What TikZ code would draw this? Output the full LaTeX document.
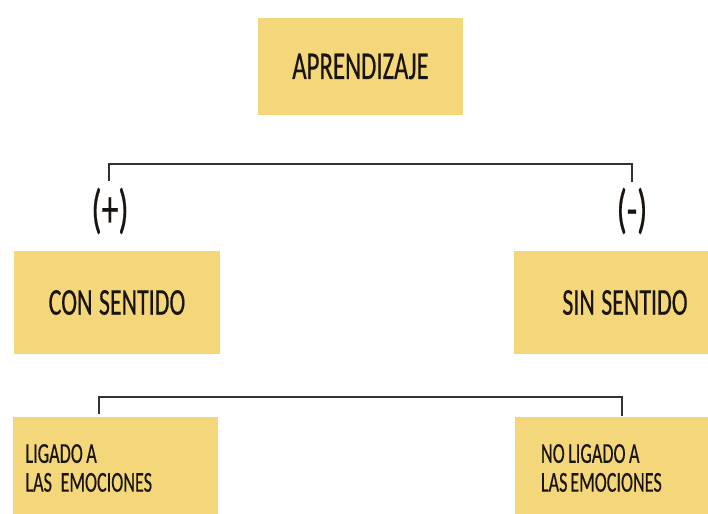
\documentclass[tikz,border=0pt]{standalone}
\usepackage{fontspec}
\setmainfont[FakeStretch=0.63, FakeBold=0.4]{Carlito}
\newcommand{\wgap}[1][0.2em]{\hspace{#1}}
\definecolor{boxyellow}{RGB}{243,215,122}
\definecolor{linegray}{RGB}{50,50,50}
\definecolor{inkblack}{RGB}{25,20,15}
\tikzset{
  box/.style={fill=boxyellow, draw=none, minimum height=2.55cm, inner sep=0pt, text=inkblack},
  sign/.style={text=inkblack, font=\fontsize{38}{38}\selectfont},
  bracket/.style={draw=linegray, line width=1.3pt}
}
\begin{document}
\begin{tikzpicture}[x=0.025cm, y=-0.025cm]
    \useasboundingbox (0,0) rectangle (708,513);
    \clip (0,0) rectangle (708,513);

    % top
    \node (aprend) at (360.5,66.5) [box, minimum width=5.125cm, minimum height=2.425cm, font=\fontsize{28}{28}\selectfont] {APRENDIZAJE};

    \coordinate (pluscorner) at (109,164); \coordinate (plusend) at (109,181);
    \coordinate (minuscorner) at (632,164); \coordinate (minusend) at (632,182);
    \draw [bracket] (plusend) -- (pluscorner) -- (minuscorner) -- (minusend);
    \node (plus) at (110,211) [sign] {(+)};
    \node (minus) at (632,211) [sign] {(-)};

    % middle
    \node (consent) at (117,302.5) [box, minimum width=5.125cm, font=\fontsize{27}{27}\selectfont] {CON\wgap[0.17em]SENTIDO};
    \node (sinsent) at (625,302.5) [box, minimum width=5.55cm, font=\fontsize{27}{27}\selectfont] {SIN\wgap[0.17em]SENTIDO};

    \coordinate (ligcorner) at (99,397); \coordinate (ligend) at (99,414);
    \coordinate (noligcorner) at (622,397); \coordinate (noligend) at (622,416);
    \draw [bracket] (ligend) -- (ligcorner) -- (noligcorner) -- (noligend);

    % bottom
    \node (ligado) at (115.5,468) [box, minimum width=5.125cm, text width=4.5cm, align=left, font=\fontsize{20.5}{20.5}\selectfont] {LIGADO\wgap[0.12em]A\\LAS\wgap[0.3em]EMOCIONES};
    \node (noligado) at (626,468) [box, minimum width=5.55cm, text width=4.25cm, align=left, font=\fontsize{20.5}{20.5}\selectfont] {NO\wgap[0.12em]LIGADO\wgap[0.12em]A\\LAS\wgap[0.1em]EMOCIONES};
\end{tikzpicture}
\end{document}
